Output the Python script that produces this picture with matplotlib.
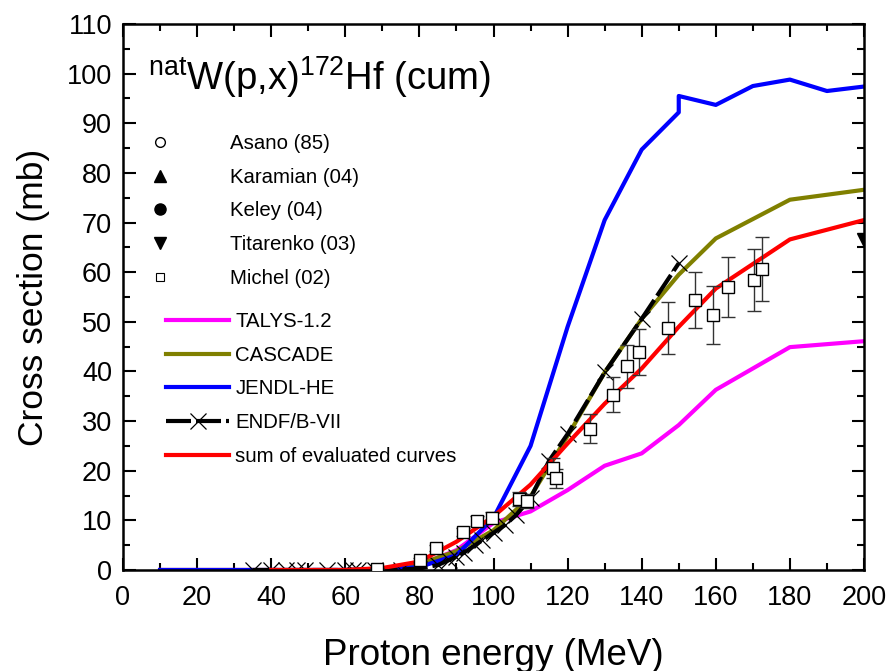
import numpy as np
import matplotlib
matplotlib.use('Agg')
import matplotlib.pyplot as plt
from matplotlib.lines import Line2D

plt.rcParams['font.family'] = ['Liberation Sans', 'DejaVu Sans']
plt.rcParams['mathtext.fontset'] = 'custom'
plt.rcParams['mathtext.rm'] = 'Liberation Sans'

# evaluated / model curves
e_curve = [10, 20, 30, 40, 50, 60, 70, 80, 90, 100, 110, 120, 130, 140, 150, 160, 180, 200]
talys = [0, 0, 0, 0, 0, 0, 0.2, 1.0, 4.0, 9.5, 11.8, 16.1, 21.0, 23.5, 29.2, 36.3, 44.9, 46.1]
cascade = [0, 0, 0, 0, 0, 0, 0.3, 1.2, 3.8, 8.0, 14.8, 27.0, 39.8, 50.6, 59.5, 66.8, 74.6, 76.6]
e_sum = [40, 50, 60, 70, 80, 90, 100, 110, 120, 130, 140, 150, 160, 180, 200]
sum_eval = [0, 0, 0, 0.4, 1.7, 5.7, 10.8, 17.2, 25.5, 33.5, 40.6, 49.0, 56.7, 66.6, 70.5]

e_jendl = [10, 20, 30, 40, 50, 60, 70, 80, 90, 100, 110, 120, 130, 140, 150, 150, 160, 170, 180, 190, 200]
jendl = [0, 0, 0, 0, 0, 0, 0.1, 0.6, 3.0, 10.5, 25.0, 49.0, 70.5, 84.7, 92.2, 95.5, 93.7, 97.5, 98.8, 96.5, 97.4]

e_endf = [35, 40, 44, 47, 49, 55, 60, 62, 63.5, 68, 75, 80, 85, 88, 90, 92, 95, 97, 100, 103,
          106, 110, 115, 120, 130, 140, 150]
endf = [0, 0, 0, 0, 0, 0, 0, 0, 0, 0, 0.1, 0.3, 1.0, 2.0, 2.7, 3.5, 5.0, 6.0, 7.5, 9.0,
        11.0, 14.5, 22.0, 27.4, 39.8, 50.6, 61.8]

# experimental data
e_michel = [68.5, 80.2, 84.4, 91.9, 95.6, 99.5, 107.0, 109.1, 116.1, 117.0, 126.0, 132.3,
            136.1, 139.3, 147.2, 154.4, 159.3, 163.2, 170.4, 172.4]
michel = [0.3, 2.0, 4.4, 7.7, 9.9, 10.5, 14.3, 13.9, 20.5, 18.5, 28.5, 35.3,
          41.0, 43.9, 48.7, 54.4, 51.4, 57.0, 58.4, 60.6]
michel_err = [0.1, 0.4, 0.6, 0.8, 1.0, 1.1, 1.4, 1.4, 2.0, 1.9, 3.0, 3.5,
              4.4, 4.7, 5.2, 5.7, 5.8, 6.0, 6.2, 6.4]
e_titarenko = [200]
titarenko = [66.5]
e_asano, asano = [], []
e_karamian, karamian = [], []
e_keley, keley = [], []

fig = plt.figure(figsize=(8.9, 6.71), dpi=100)
ax = fig.add_axes([123 / 890, 101 / 671, 741 / 890, 546 / 671])

lw = 3.0
ax.plot(e_curve, talys, color='#ff00ff', lw=lw)
ax.plot(e_curve, cascade, color='#808000', lw=lw)
ax.plot(e_jendl, jendl, color='#0000ff', lw=lw)
ax.plot(e_endf, endf, color='black', lw=lw, dashes=(6, 1.2))
ax.plot(e_endf, endf, ls='none', marker='x', ms=11, mew=0.9, color='black')
ax.plot(e_sum, sum_eval, color='#ff0000', lw=lw)

ax.errorbar(e_michel, michel, yerr=michel_err, fmt='s', ms=9, mfc='white', mec='black',
            mew=1.0, ecolor='#333333', elinewidth=1.0, capsize=5, capthick=1.0, zorder=5)
ax.plot(e_titarenko, titarenko, 'v', color='black', ms=10, zorder=6)
ax.plot(e_asano, asano, 'o', mfc='white', mec='black')
ax.plot(e_karamian, karamian, '^', color='black')
ax.plot(e_keley, keley, 'o', color='black')

ax.set_xlim(0, 200)
ax.set_ylim(0, 110)
ax.set_xticks(np.arange(0, 201, 20))
ax.set_xticks(np.arange(0, 201, 10), minor=True)
ax.set_yticks(np.arange(0, 111, 10))
ax.set_yticks(np.arange(0, 111, 5), minor=True)
ax.tick_params(which='both', direction='in', top=True, right=True, width=1.5)
ax.tick_params(which='major', length=9, labelsize=19.5)
ax.tick_params(which='minor', length=5)
ax.tick_params(axis='x', pad=11)
ax.tick_params(axis='y', pad=8)
for s in ax.spines.values():
    s.set_linewidth(1.8)

ax.set_xlabel('Proton energy (MeV)', fontsize=26.5, labelpad=19)
ax.set_ylabel('Cross section (mb)', fontsize=25.5, labelpad=12)

ax.text(0.034, 0.88, r'$\mathregular{^{nat}}$W(p,x)$\mathregular{^{172}}$Hf (cum)',
        transform=ax.transAxes, fontsize=27.5)

# legend: experimental symbols
sym_handles = [
    Line2D([], [], ls='none', marker='o', ms=7, mfc='white', mec='black'),
    Line2D([], [], ls='none', marker='^', ms=9, color='black'),
    Line2D([], [], ls='none', marker='o', ms=8, color='black'),
    Line2D([], [], ls='none', marker='v', ms=9, color='black'),
    Line2D([], [], ls='none', marker='s', ms=6, mfc='white', mec='black', mew=0.8),
]
sym_labels = ['Asano (85)', 'Karamian (04)', 'Keley (04)', 'Titarenko (03)', 'Michel (02)']
leg1 = ax.legend(sym_handles, sym_labels, loc='upper left', bbox_to_anchor=(150 / 890, 1 - 134 / 671),
                 bbox_transform=fig.transFigure, frameon=False, fontsize=14.7, handlelength=1.0,
                 handletextpad=2.9, labelspacing=0.72, borderpad=0, borderaxespad=0)
ax.add_artist(leg1)

line_handles = [
    Line2D([], [], color='#ff00ff', lw=lw),
    Line2D([], [], color='#808000', lw=lw),
    Line2D([], [], color='#0000ff', lw=lw),
    Line2D([], [], color='black', lw=lw, marker='x', ms=11, mew=0.9, mfc='none',
           markevery=[1], dashes=(6, 1.2)),
    Line2D([], [], color='#ff0000', lw=lw),
]
line_labels = ['TALYS-1.2', 'CASCADE', 'JENDL-HE', 'ENDF/B-VII', 'sum of evaluated curves']
ax.legend(line_handles, line_labels, loc='upper left', bbox_to_anchor=(166 / 890, 1 - 312 / 671),
          bbox_transform=fig.transFigure, frameon=False, fontsize=14.7, handlelength=3.1,
          handletextpad=0.3, labelspacing=0.72, borderpad=0, borderaxespad=0)

fig.savefig('out.png', dpi=100)
